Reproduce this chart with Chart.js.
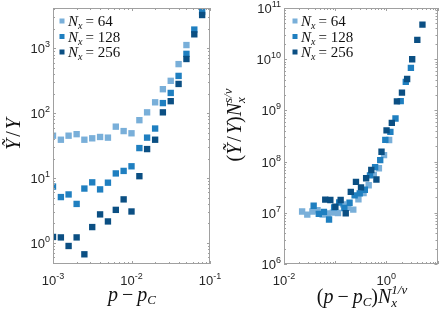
<!DOCTYPE html>
<html>
<head>
<meta charset="utf-8">
<script src="https://cdn.jsdelivr.net/npm/chart.js@4.4.0/dist/chart.umd.min.js"></script>
<style>
    html, body { margin: 0; padding: 0; background: #fff; }
    #wrap { position: relative; width: 442px; height: 314px; overflow: hidden; }
    canvas { position: absolute; top: 0; }
</style>
</head>
<body>
<div id="wrap">
    <canvas id="leftChart" width="232" height="314" style="left:0"></canvas>
    <canvas id="rightChart" width="221" height="314" style="left:221px"></canvas>
</div>
<script>
// left panel: p - p_C vs Ytilde / Y
const pLeft = [0.001, 0.00126, 0.00158, 0.002, 0.00251, 0.00316, 0.00398, 0.00501, 0.00631, 0.00794,
    0.01, 0.0126, 0.0158, 0.02, 0.0251, 0.0316, 0.0398, 0.0501, 0.0631, 0.0794];
const ratio64 = [45, 39, 45, 47.5, 39, 41, 43, 42, 62, 53, 49, 78, 103, 147, 234, 315, 570, 1120];
const ratio128 = [7.4, 5.1, 5.6, 4.0, 6.9, 8.6, 6.7, 8.5, 11.8, 12.9, 15.2, 29, 42, 58, 143, 205, 375, 820, 1940, 3650];
const ratio256 = [1.24, 1.22, 0.90, 1.22, 0.67, 1.76, 2.76, 2.15, 3.24, 4.7, 3.06, 10.7, 28, 39, 103, 153, 282, 683, 1640, 3250];

// right panel: scaled collapse
const scaledX64 = [0.0226, 0.0285, 0.0359, 0.0452, 0.0569, 0.0716, 0.0902, 0.1135, 0.143, 0.180,
    0.226, 0.285, 0.359, 0.452, 0.569, 0.716, 0.902, 1.135];
const scaledY64 = [1.06e7, 9.2e6, 1.06e7, 1.12e7, 9.2e6, 9.7e6, 1.01e7, 9.9e6, 1.46e7, 1.25e7,
    1.15e7, 1.84e7, 2.43e7, 3.46e7, 5.51e7, 7.42e7, 1.34e8, 2.64e8];
const scaledX128 = [0.0380, 0.0479, 0.0603, 0.0759, 0.0955, 0.120, 0.151, 0.191, 0.240, 0.302,
    0.380, 0.479, 0.603, 0.759, 0.955, 1.20, 1.51, 1.91, 2.40, 3.02];
const scaledY128 = [1.37e7, 9.5e6, 1.04e7, 7.4e6, 1.28e7, 1.59e7, 1.24e7, 1.57e7, 2.19e7, 2.39e7,
    2.82e7, 5.37e7, 7.78e7, 1.07e8, 2.65e8, 3.80e8, 6.95e8, 1.52e9, 3.60e9, 6.76e9];
const scaledX256 = [0.0640, 0.0805, 0.101, 0.128, 0.161, 0.202, 0.255, 0.320, 0.403, 0.508,
    0.640, 0.805, 1.01, 1.28, 1.61, 2.02, 2.55, 3.20, 4.03, 5.08];
const scaledY256 = [1.81e7, 1.78e7, 1.31e7, 1.78e7, 9.8e6, 2.57e7, 4.03e7, 3.13e7, 4.73e7, 6.86e7,
    4.47e7, 1.56e8, 4.08e8, 5.69e8, 1.50e9, 2.23e9, 4.11e9, 9.96e9, 2.39e10, 4.74e10];

const sizes = ['64', '128', '256'];
const leftXTicks = [-3, -2, -1];
const leftYTicks = [0, 1, 2, 3];
const rightXTicks = [-2, 0];
const rightYTicks = [6, 7, 8, 9, 10, 11];

const colors = ['#79afd9', '#1f7fc0', '#0b4f83'];
const SERIF = '"Liberation Serif", "DejaVu Serif", serif';
const SANS = '"Liberation Sans", Arial, sans-serif';

function fontOf(p) {
    return (p.i ? 'italic ' : '') + (p.s || 20) + 'px ' + (p.f || SERIF);
}

function richWidth(ctx, parts) {
    let cx = 0, maxX = 0;
    parts.forEach(p => {
        ctx.font = fontOf(p);
        const w = ctx.measureText(p.t).width;
        maxX = Math.max(maxX, cx + w);
        if (!p.stack) cx += w + (p.gap || 0);
    });
    return Math.max(cx, maxX);
}

function drawRich(ctx, parts, x, y, align) {
    const total = richWidth(ctx, parts);
    let cx = align === 'center' ? x - total / 2 : align === 'right' ? x - total : x;
    ctx.textAlign = 'left';
    ctx.textBaseline = 'alphabetic';
    parts.forEach(p => {
        ctx.font = fontOf(p);
        ctx.fillText(p.t, cx, y + (p.dy || 0));
        if (!p.stack) cx += ctx.measureText(p.t).width + (p.gap || 0);
    });
}

function powerLabel(e) {
    return [
        { t: '10', s: 13, f: SANS },
        { t: String(e), s: 9, f: SANS, dy: -6 }
    ];
}

function legendParts(n) {
    return [
        { t: 'N', i: true, s: 15 },
        { t: 'x', i: true, s: 10, dy: 3, gap: 3 },
        { t: '= ' + n, s: 15 }
    ];
}

const framePlugin = {
    id: 'frame',
    afterDatasetsDraw(chart) {
        const cfg = chart.options.plugins.frame;
        const ctx = chart.ctx;
        const a = chart.chartArea;
        const xs = chart.scales.x, ys = chart.scales.y;
        ctx.save();

        // box
        ctx.strokeStyle = '#a0a0a0';
        ctx.lineWidth = 1;
        ctx.strokeRect(Math.round(a.left) + 0.5, Math.round(a.top) + 0.5,
            Math.round(a.right - a.left) - 1, Math.round(a.bottom - a.top) - 1);

        // ticks pointing inward on all sides
        ctx.beginPath();
        const addX = (v, len) => {
            const px = Math.round(xs.getPixelForValue(v)) + 0.5;
            ctx.moveTo(px, a.bottom); ctx.lineTo(px, a.bottom - len);
            ctx.moveTo(px, a.top); ctx.lineTo(px, a.top + len);
        };
        const addY = (v, len) => {
            const py = Math.round(ys.getPixelForValue(v)) + 0.5;
            ctx.moveTo(a.left, py); ctx.lineTo(a.left + len, py);
            ctx.moveTo(a.right, py); ctx.lineTo(a.right - len, py);
        };
        const eachTick = (scale, add) => {
            const lo = Math.floor(Math.log10(scale.min)), hi = Math.ceil(Math.log10(scale.max));
            for (let d = lo; d <= hi; d++) {
                for (let m = 1; m <= 9; m++) {
                    const v = m * Math.pow(10, d);
                    if (v < scale.min * 0.999 || v > scale.max * 1.001) continue;
                    add(v, m === 1 ? 3 : 2);
                }
            }
        };
        eachTick(xs, addX);
        eachTick(ys, addY);
        ctx.stroke();

        // tick labels
        ctx.fillStyle = '#262626';
        cfg.xTicks.forEach(e => {
            drawRich(ctx, powerLabel(e), xs.getPixelForValue(Math.pow(10, e)), 285, 'center');
        });
        cfg.yTicks.forEach(e => {
            drawRich(ctx, powerLabel(e), a.left - 3, ys.getPixelForValue(Math.pow(10, e)) + 5, 'right');
        });

        // axis titles
        ctx.fillStyle = '#111';
        drawRich(ctx, cfg.xTitle, cfg.xTitlePos[0], cfg.xTitlePos[1], 'center');
        ctx.save();
        ctx.translate(cfg.yTitlePos[0], cfg.yTitlePos[1]);
        ctx.rotate(-Math.PI / 2);
        drawRich(ctx, cfg.yTitle, 0, 0, 'center');
        ctx.restore();

        // legend
        sizes.forEach((n, i) => {
            const y = cfg.legendPos[1] + i * 15.5;
            ctx.fillStyle = colors[i];
            ctx.fillRect(cfg.legendPos[0] - 2.5, y - 2.5, 5, 5);
            ctx.fillStyle = '#111';
            drawRich(ctx, legendParts(n), cfg.legendPos[0] + 6, y + 5, 'left');
        });
        ctx.restore();
    }
};

function toPoints(xs, ys) {
    return ys.map((y, i) => ({ x: xs[i], y: y }));
}

function makeDatasets(series) {
    return series.map((pts, i) => ({
        label: 'N_x = ' + sizes[i],
        data: pts,
        backgroundColor: colors[i],
        pointStyle: 'rect',
        pointRadius: 4.5,
        pointBorderWidth: 0,
        order: 3 - i
    }));
}

function makeChart(id, datasets, xRange, yRange, padding, frame) {
    return new Chart(document.getElementById(id).getContext('2d'), {
        type: 'scatter',
        data: { datasets: datasets },
        options: {
            responsive: false,
            animation: false,
            layout: { padding: padding },
            plugins: { legend: { display: false }, tooltip: { enabled: false }, frame: frame },
            scales: {
                x: { type: 'logarithmic', min: xRange[0], max: xRange[1], display: false },
                y: { type: 'logarithmic', min: yRange[0], max: yRange[1], display: false }
            }
        },
        plugins: [framePlugin]
    });
}

makeChart('leftChart',
    makeDatasets([toPoints(pLeft, ratio64), toPoints(pLeft, ratio128), toPoints(pLeft, ratio256)]),
    [1e-3, 1e-1], [0.475, 4170],
    { left: 53, right: 22, top: 8, bottom: 50 },
    {
        xTicks: leftXTicks,
        yTicks: leftYTicks,
        xTitle: [
            { t: 'p', i: true, gap: 4 },
            { t: '−', gap: 4 },
            { t: 'p', i: true },
            { t: 'C', i: true, s: 13, dy: 3 }
        ],
        xTitlePos: [132, 301],
        yTitle: [
            { t: 'Ỹ', i: true, gap: 2 },
            { t: '/', gap: 2 },
            { t: 'Y', i: true }
        ],
        yTitlePos: [20, 134],
        legendPos: [62, 21]
    });

makeChart('rightChart',
    makeDatasets([toPoints(scaledX64, scaledY64), toPoints(scaledX128, scaledY128), toPoints(scaledX256, scaledY256)]),
    [1e-2, 1e1], [1e6, 1e11],
    { left: 63, right: 3, top: 8, bottom: 50 },
    {
        xTicks: rightXTicks,
        yTicks: rightYTicks,
        xTitle: [
            { t: '(' },
            { t: 'p', i: true, gap: 4 },
            { t: '−', gap: 4 },
            { t: 'p', i: true },
            { t: 'C', i: true, s: 13, dy: 3 },
            { t: ')' },
            { t: 'N', i: true },
            { t: 'x', i: true, s: 13, dy: 4, stack: true },
            { t: '1/ν', i: true, s: 13, dy: -9 }
        ],
        xTitlePos: [141, 303],
        yTitle: [
            { t: '(' },
            { t: 'Ỹ', i: true, gap: 2 },
            { t: '/', gap: 2 },
            { t: 'Y', i: true },
            { t: ')' },
            { t: 'N', i: true },
            { t: 'x', i: true, s: 13, dy: 4, stack: true },
            { t: 's/ν', i: true, s: 13, dy: -9 }
        ],
        yTitlePos: [20, 125],
        legendPos: [74, 21]
    });
</script>
</body>
</html>
